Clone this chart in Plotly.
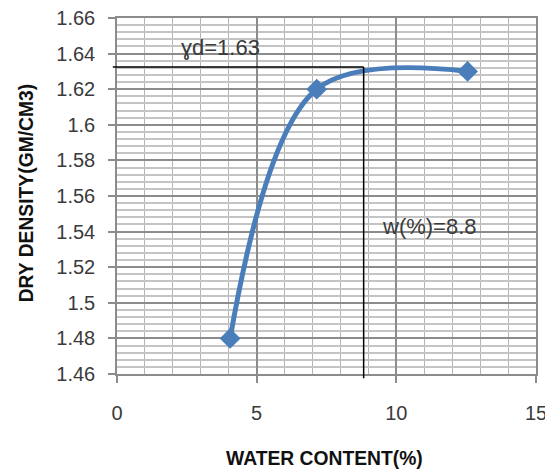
import plotly.graph_objects as go

water_content = [4.05, 7.15, 12.55]
dry_density = [1.48, 1.62, 1.63]

max_dry_density = 1.6325
optimum_water = 8.83

x_ticks = [0, 5, 10, 15]
y_ticks = [1.46, 1.48, 1.5, 1.52, 1.54, 1.56, 1.58, 1.6, 1.62, 1.64, 1.66]
y_tick_text = ["1.46", "1.48", "1.5", "1.52", "1.54", "1.56", "1.58", "1.6", "1.62", "1.64", "1.66"]

FONT = "Liberation Sans"
TXT = "#3a3a3a"
BLUE = "#4a7ebb"

fig = go.Figure()
fig.add_trace(go.Scatter(
    x=water_content, y=dry_density, mode="lines+markers",
    line=dict(color=BLUE, width=5, shape="spline", smoothing=1.0),
    marker=dict(symbol="diamond", size=16, color=BLUE),
    showlegend=False, cliponaxis=False,
))

fig.add_shape(type="line", xref="paper", yref="y", x0=-0.01, x1=optimum_water / 15,
              y0=max_dry_density, y1=max_dry_density, line=dict(color="black", width=1.5))
fig.add_shape(type="line", xref="x", yref="paper", x0=optimum_water, x1=optimum_water,
              y0=-0.012, y1=(max_dry_density - 1.46) / 0.2, line=dict(color="black", width=1.5))

fig.add_annotation(x=3.72, y=1.6433, xref="x", yref="y", text="ɣd=1.63", showarrow=False,
                   font=dict(family=FONT, size=22, color=TXT))
fig.add_annotation(x=11.2, y=1.5428, xref="x", yref="y", text="w(%)=8.8", showarrow=False,
                   font=dict(family=FONT, size=22, color=TXT))

fig.add_annotation(x=0.496, y=-0.236, xref="paper", yref="paper", text="<b>WATER CONTENT(%)</b>",
                   showarrow=False, font=dict(family=FONT, size=19.3, color="#111"),
                   xanchor="center", yanchor="middle")
fig.add_annotation(x=-0.215, y=0.51, xref="paper", yref="paper", text="<b>DRY DENSITY(GM/CM3)</b>",
                   showarrow=False, textangle=-90, font=dict(family=FONT, size=19.3, color="#111"),
                   xanchor="center", yanchor="middle")

fig.update_xaxes(
    range=[0, 15], tickvals=x_ticks, ticktext=[str(v) for v in x_ticks],
    showline=True, linecolor="#8c8c8c", linewidth=1.5, mirror=True,
    ticks="outside", ticklen=7, tickcolor="#8c8c8c", tickwidth=1.5,
    showgrid=True, gridcolor="#8c8c8c", gridwidth=1.5,
    minor=dict(dtick=1, showgrid=True, gridcolor="#b4b4b4", gridwidth=1.2),
    zeroline=False, ticklabelstandoff=13, automargin=False, ticklabeloverflow="allow",
    tickfont=dict(family=FONT, size=20, color=TXT),
)
fig.update_yaxes(
    range=[1.46, 1.66], tickvals=y_ticks, ticktext=y_tick_text,
    showline=True, linecolor="#8c8c8c", linewidth=1.5, mirror=True,
    ticks="outside", ticklen=7, tickcolor="#8c8c8c", tickwidth=1.5,
    showgrid=True, gridcolor="#8c8c8c", gridwidth=1.5,
    minor=dict(dtick=0.004, tick0=1.46, showgrid=True, gridcolor="#c4c4c4", gridwidth=1.5),
    zeroline=False, ticklabelstandoff=9, automargin=False, ticklabeloverflow="allow",
    tickfont=dict(family=FONT, size=20, color=TXT),
)

# page body has an 8px default margin; shrink the figure so the plot area lands where the reference has it
fig.update_layout(
    width=545, height=462,
    margin=dict(l=109, r=17, t=10, b=96),
    plot_bgcolor="white", paper_bgcolor="white",
)

fig.write_html("out.html")
